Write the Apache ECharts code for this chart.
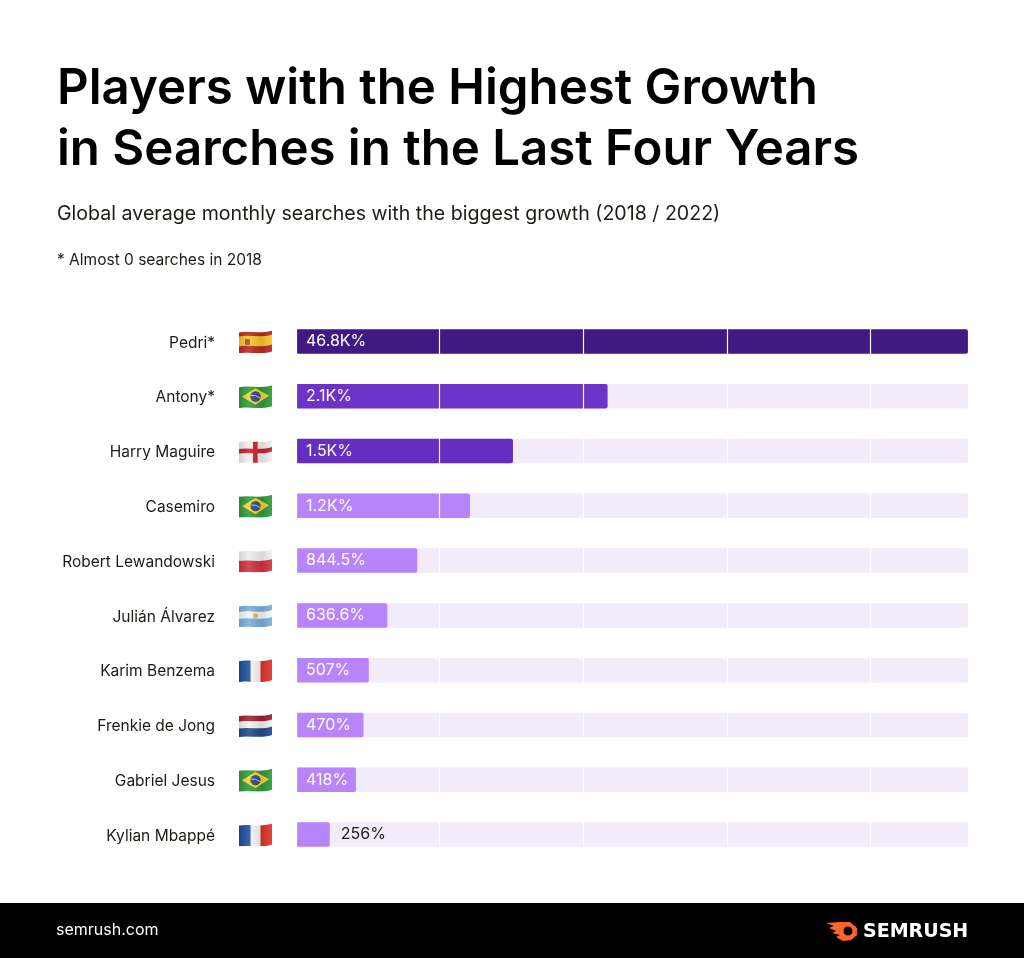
<!DOCTYPE html>
<html>
<head>
<meta charset="utf-8">
<title>Players with the Highest Growth</title>
<script src="https://cdn.jsdelivr.net/npm/echarts@6/dist/echarts.min.js"></script>
<style>
html, body { margin: 0; padding: 0; background: #fff; }
#main { width: 1024px; height: 958px; }
</style>
</head>
<body>
<div id="main"></div>
<script>
var players = ['Pedri*', 'Antony*', 'Harry Maguire', 'Casemiro', 'Robert Lewandowski', 'Julián Álvarez', 'Karim Benzema', 'Frenkie de Jong', 'Gabriel Jesus', 'Kylian Mbappé'];
// bar lengths as drawn in the picture, the first one runs off the axis
var growth = [46800, 2170, 1511, 1212, 844.5, 636.6, 507, 470, 418, 235];
var growthLabels = ['46.8K%', '2.1K%', '1.5K%', '1.2K%', '844.5%', '636.6%', '507%', '470%', '418%', '256%'];
var countries = ['es', 'br', 'en', 'br', 'pl', 'ar', 'fr', 'nl', 'br', 'fr'];
var barColors = ['#421983', '#6c33c9', '#662dc2', '#b784fb', '#b784fb', '#b784fb', '#b784fb', '#b784fb', '#b784fb', '#b784fb'];

var FONT = 'Inter, "Noto Sans", sans-serif';
var INK = '#181e15';

// one wavy horizontal band of a flag
function band(y0, y1, color) {
    return '<path fill="' + color + '" d="M0 ' + y0 + 'C11 ' + (y0 - 2) + ' 20 ' + (y0 + 2) + ' 33 ' + (y0 - 2) +
        'V' + (y1 - 2) + 'C20 ' + (y1 + 2) + ' 11 ' + (y1 - 2) + ' 0 ' + y1 + 'Z"/>';
}
function flagUrl(body) {
    var svg = '<svg xmlns="http://www.w3.org/2000/svg" width="132" height="96" viewBox="0 0 33 24">' +
        '<defs><clipPath id="c"><path d="M0 3C11 1 20 5 33 1V22C20 26 11 22 0 24Z"/></clipPath>' +
        '<linearGradient id="s"><stop offset="0" stop-color="#000" stop-opacity=".12"/>' +
        '<stop offset=".3" stop-color="#fff" stop-opacity=".12"/><stop offset=".7" stop-color="#000" stop-opacity=".1"/>' +
        '<stop offset="1" stop-color="#fff" stop-opacity=".08"/></linearGradient></defs>' +
        '<g clip-path="url(#c)">' + body + '<rect width="33" height="26" fill="url(#s)"/></g></svg>';
    return 'data:image/svg+xml;charset=utf-8,' + encodeURIComponent(svg);
}
var brazil = band(0, 26, '#2f9a3c') +
    '<path fill="#f5d327" d="M3 12.5L16.5 4L30 11.5L16.5 20.5Z"/>' +
    '<circle cx="16.5" cy="12.3" r="5.2" fill="#2b4a8c"/>' +
    '<path d="M11.6 11.2Q17 10.4 21.4 14" stroke="#e8eef0" stroke-width="0.8" fill="none"/>';
var flags = {
    es: flagUrl(band(0, 8, '#b8291f') + band(7, 18, '#f6c62f') + band(17, 26, '#b8291f') +
        '<rect x="6" y="9.5" width="5" height="6" rx="1" fill="#a8551f"/>'),
    br: flagUrl(brazil),
    en: flagUrl(band(0, 26, '#f1eeee') + band(10, 14.5, '#c8202c') + '<rect x="14" y="0" width="4.6" height="26" fill="#c8202c"/>'),
    pl: flagUrl(band(0, 13, '#f0eeee') + band(12.5, 26, '#d3313d')),
    ar: flagUrl(band(0, 9, '#79addc') + band(8.5, 16, '#f5f5f5') + band(15.5, 26, '#79addc') +
        '<circle cx="16.5" cy="12.3" r="2.5" fill="#e5b45c"/>'),
    fr: flagUrl('<rect x="0" y="0" width="12" height="26" fill="#1c4f9c"/><rect x="11.5" y="0" width="10.5" height="26" fill="#f5f5f5"/><rect x="21.5" y="0" width="12" height="26" fill="#e0342c"/>'),
    nl: flagUrl(band(0, 9, '#9b2232') + band(8.5, 16, '#f3f1f1') + band(15.5, 26, '#244a8c'))
};

var richStyles = {
    n: { fontFamily: FONT, fontSize: 15.5, color: INK, align: 'right', padding: [3, 0, 0, 0] },
    g: { width: 24, height: 24 }
};
Object.keys(flags).forEach(function (k) {
    richStyles[k] = { width: 33, height: 24, backgroundColor: { image: flags[k] } };
});

var barData = growth.map(function (v, i) {
    var last = i === growth.length - 1;
    return {
        value: v,
        itemStyle: { color: barColors[i], borderRadius: 2 },
        label: {
            show: true,
            formatter: growthLabels[i],
            position: last ? 'right' : 'insideLeft',
            distance: last ? 11 : 10,
            color: last ? INK : '#fff',
            fontFamily: FONT,
            fontSize: 16,
            padding: [4, 0, 0, 0]
        }
    };
});

var myChart = echarts.init(document.getElementById('main'));

var option = {
    backgroundColor: '#fff',
    animation: false,
    title: [
        {
            text: 'Players with the Highest Growth\nin Searches in the Last Four Years',
            left: 52, top: 54,
            textStyle: { fontFamily: FONT, fontSize: 49.2, fontWeight: 600, color: '#000', lineHeight: 61 }
        },
        {
            text: 'Global average monthly searches with the biggest growth (2018 / 2022)',
            left: 52, top: 199,
            textStyle: { fontFamily: FONT, fontSize: 19.6, fontWeight: 400, color: INK }
        },
        {
            text: '* Almost 0 searches in 2018',
            left: 52, top: 247,
            textStyle: { fontFamily: FONT, fontSize: 15.5, fontWeight: 400, color: INK }
        }
    ],
    grid: { left: 296, top: 314, width: 672, height: 548 },
    xAxis: {
        type: 'value',
        min: 0,
        max: 4680,
        interval: 1000,
        z: 5,
        axisLabel: { show: false },
        axisLine: { show: false },
        axisTick: { show: false },
        splitLine: { show: true, lineStyle: { color: '#fff', width: 1.2 } }
    },
    yAxis: {
        type: 'category',
        inverse: true,
        data: players,
        axisLine: { show: false },
        axisTick: { show: false },
        axisLabel: {
            margin: 24,
            formatter: function (name, i) {
                return '{n|' + name + '}{g|}{' + countries[i] + '|}';
            },
            rich: richStyles
        }
    },
    series: [{
        type: 'bar',
        data: barData,
        barWidth: 24.5,
        clip: true,
        showBackground: true,
        backgroundStyle: { color: '#f1ebfa', borderRadius: 2 }
    }],
    graphic: [
        { type: 'rect', silent: true, z: 0, shape: { x: 0, y: 903, width: 1024, height: 55 }, style: { fill: '#000' } },
        { type: 'text', x: 56, y: 922, style: { text: 'semrush.com', fill: '#fff', font: '400 16px ' + FONT } },
        { type: 'text', x: 863, y: 923, style: { text: 'SEMRUSH', fill: '#fff', font: '700 19px "DejaVu Sans"' } },
        // flame of the logo
        { type: 'polygon', shape: { points: [[826, 923], [841, 922], [850, 922], [857, 928], [857, 935], [851, 940], [843, 941], [836, 937], [840, 935], [832, 933], [836, 931], [829, 928], [834, 926]] }, style: { fill: '#ff642d' } },
        { type: 'circle', shape: { cx: 848, cy: 931, r: 5 }, style: { fill: '#000', stroke: '#ff642d', lineWidth: 1 } }
    ]
};

myChart.setOption(option);
window.addEventListener('resize', function () {
    myChart.resize();
});
</script>
</body>
</html>
